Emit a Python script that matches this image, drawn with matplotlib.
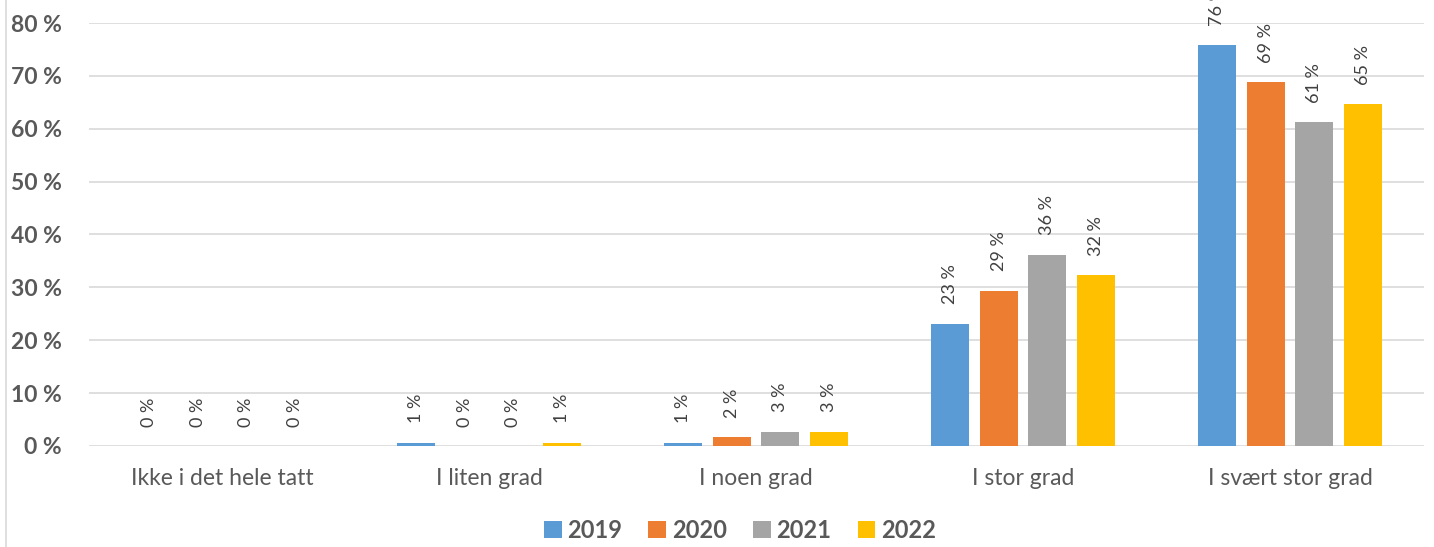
import matplotlib.pyplot as plt
import numpy as np
from matplotlib.lines import Line2D

# data
categories = ["Ikke i det hele tatt", "I liten grad", "I noen grad", "I stor grad", "I svært stor grad"]
years = ["2019", "2020", "2021", "2022"]
v2019 = [0.0, 0.6, 0.6, 23.1, 75.8]
v2020 = [0.0, 0.0, 1.7, 29.4, 68.8]
v2021 = [0.0, 0.0, 2.7, 36.2, 61.2]
v2022 = [0.0, 0.6, 2.7, 32.3, 64.6]
series = [v2019, v2020, v2021, v2022]
colors = ["#5b9bd5", "#ed7d31", "#a5a5a5", "#ffc000"]

TXT = "#595959"
plt.rcParams["font.family"] = ["Lato", "DejaVu Sans"]

fig = plt.figure(figsize=(14.34, 5.47), dpi=100)
ax = fig.add_axes([88.5 / 1434, 101 / 547, 1335 / 1434, 423 / 547])

x = np.arange(len(categories))
width = 0.143
step = 0.182
for i, (vals, col, yr) in enumerate(zip(series, colors, years)):
    bars = ax.bar(x + (i - 1.5) * step, vals, width, color=col, label=yr, zorder=3)
    ax.bar_label(bars, labels=[f"{round(v):.0f} %" for v in vals],
                 rotation=90, padding=14, fontsize=13, color="#404040")

ax.set_xlim(-0.5, len(categories) - 0.5)
ax.set_ylim(0, 80)
ax.set_yticks(range(0, 81, 10))
ax.set_yticklabels([f"{t} %" for t in range(0, 81, 10)], fontsize=16.5,
                   fontweight="bold", color=TXT)
ax.set_xticks(x)
ax.set_xticklabels(categories, fontsize=16.5, color=TXT)
ax.tick_params(axis="y", length=0, pad=19)
ax.tick_params(axis="x", length=0, pad=16)
ax.grid(axis="y", color="#d9d9d9", linewidth=1.2, zorder=0)
for s in ax.spines.values():
    s.set_visible(False)

# left frame edge
fig.add_artist(Line2D([6.5 / 1434, 6.5 / 1434], [0, 1], transform=fig.transFigure,
                      color="#d9d9d9", linewidth=1.2))

handles, labels = ax.get_legend_handles_labels()
fig.legend(handles, labels, loc="center", bbox_to_anchor=(740 / 1434, 1 - 530 / 547),
           ncol=4, frameon=False, handlelength=0.75, handleheight=0.75,
           handletextpad=0.25, columnspacing=1.1,
           prop={"weight": "bold", "size": 17}, labelcolor=TXT)

fig.savefig("out.png", dpi=100)
